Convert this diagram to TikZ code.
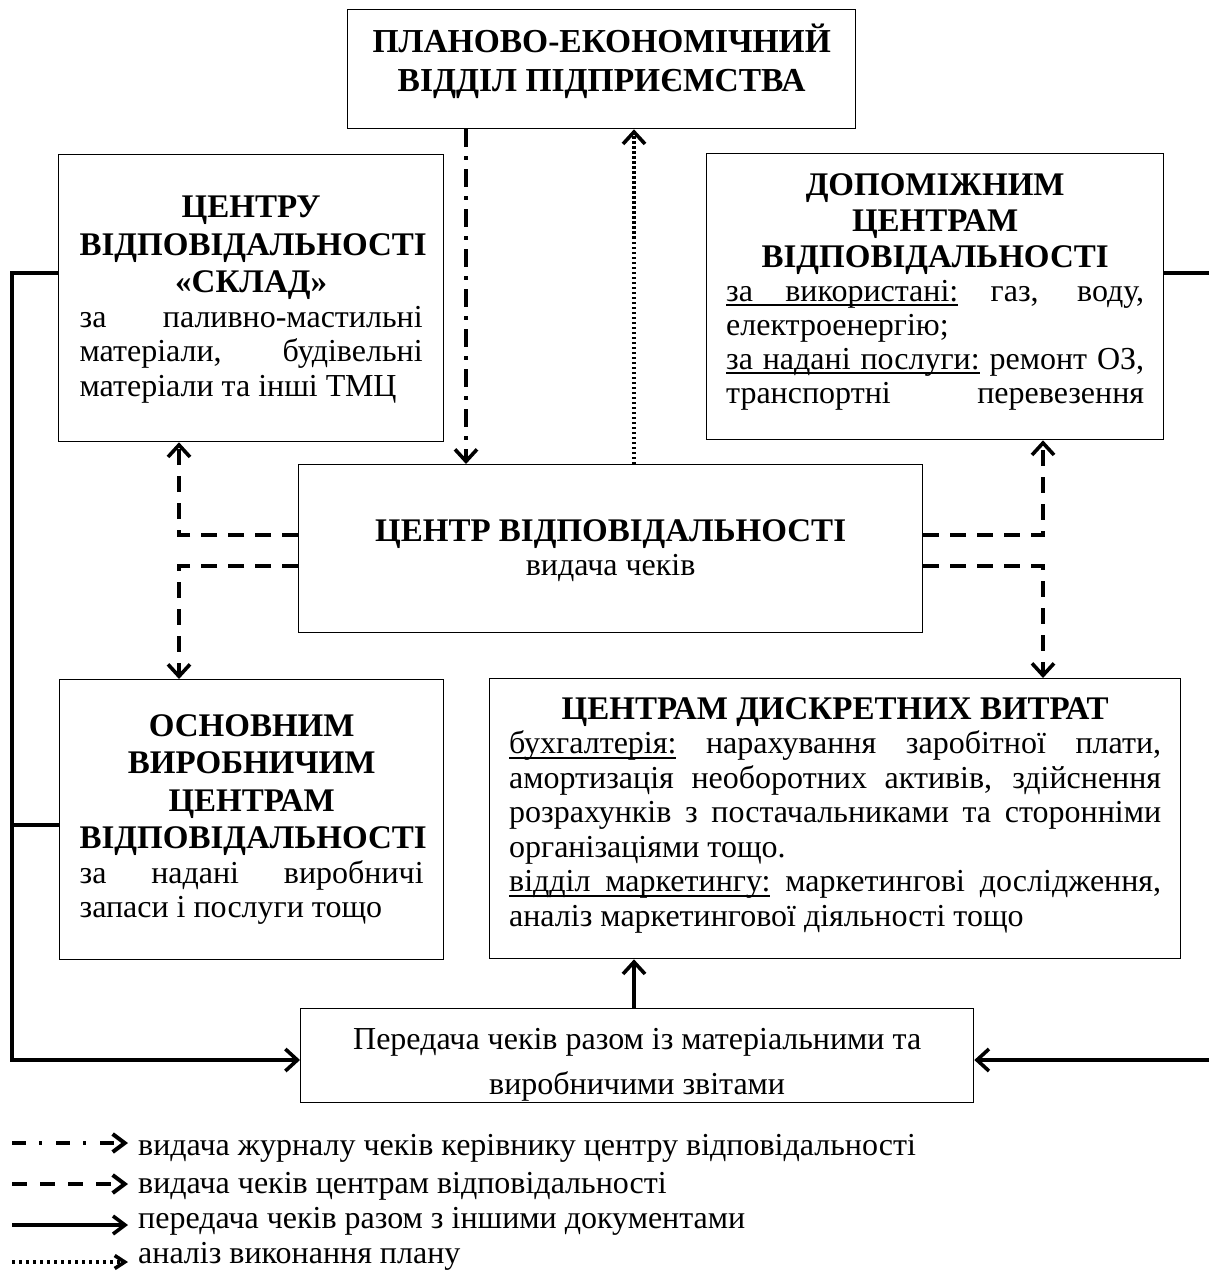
\documentclass[tikz,border=0pt]{standalone}
\usepackage{fontspec}
\setmainfont{Liberation Serif}
\usetikzlibrary{arrows.meta,calc}
\setlength{\parindent}{0pt}
\newcommand{\nsp}{\spaceskip=0pt\xspaceskip=0pt\relax}
\newcommand{\tb}[1]{{\parindent=0pt\nsp\centering\bfseries\fontsize{33}{37.5}\selectfont #1\par}}
\newcommand{\jst}{\parindent=0pt\nsp\leftskip=0pt\rightskip=0pt\parfillskip=0pt plus 1fil\relax}
\newcommand{\ulw}[1]{\leavevmode\setbox0\hbox{#1}\rlap{\rule[-5pt]{\wd0}{1.6pt}}\box0\relax}
\newcommand{\uls}{\leaders\vrule height -3.4pt depth 5pt\hskip\fontdimen2\font plus\fontdimen3\font minus\fontdimen4\font\relax}
\begin{document}
\begin{tikzpicture}[x=1pt,y=-1pt]
\useasboundingbox[fill=white] (0,0) rectangle (1209,1273);
\tikzset{
 box/.style={draw, line width=1.3pt, inner sep=0pt, anchor=north west},
 txt/.style={inner sep=0pt, anchor=north, font=\fontsize{32}{34.5}\selectfont},
 conn/.style={line width=3.6pt},
 tip/.style={-{Straight Barb[length=12pt,width=22pt]}},
 ltip/.style={-{Straight Barb[length=12pt,width=18pt]}},
 dsh/.style={conn, dash pattern=on 16pt off 11pt},
 ddot/.style={conn, dash pattern=on 18pt off 9pt on 4pt off 9pt},
 dtt/.style={conn, dash pattern=on 2.5pt off 2.5pt},
 ltxt/.style={anchor=base west, inner sep=0pt, font=\fontsize{32}{36}\selectfont},
}
% boxes
\node[box, minimum width=508, minimum height=119] (plan) at (347,9) {};
\node[box, minimum width=385, minimum height=287] (sklad) at (58,154) {};
\node[box, minimum width=457, minimum height=286] (dop) at (706,153) {};
\node[box, minimum width=624, minimum height=168] (center) at (298,464) {};
\node[box, minimum width=384, minimum height=280] (osn) at (59,679) {};
\node[box, minimum width=691, minimum height=280] (disc) at (489,678) {};
\node[box, minimum width=673, minimum height=94] (pered) at (300,1008) {};
% texts
\node[txt, text width=480] (planT) at ($(plan.north)+(0,15)$)
 {\tb{\fontsize{33.5}{39}\selectfont ПЛАНОВО-ЕКОНОМІЧНИЙ\\ВІДДІЛ ПІДПРИЄМСТВА}};
\node[txt, text width=343] (skladT) at ($(sklad.north)+(0,42)$)
 {\tb{ЦЕНТРУ\\ВІДПОВІДАЛЬНОСТІ\\«СКЛАД»}\jst
 за паливно-мастильні\linebreak матеріали, будівельні\linebreak матеріали та інші ТМЦ\par};
\node[txt, text width=418] (dopT) at ($(dop.north)+(0,20)$)
 {\tb{\baselineskip=36pt ДОПОМІЖНИМ\\ЦЕНТРАМ\\ВІДПОВІДАЛЬНОСТІ}\jst\baselineskip=34pt
 \ulw{за}\uls\ulw{використані:} газ, воду,\linebreak електроенергію;\\
 \ulw{за}\uls\ulw{надані}\uls\ulw{послуги:} ремонт ОЗ,\linebreak транспортні\hfill перевезення\par};
\node[txt, text width=580] (centerT) at ($(center.north)+(0,55)$)
 {\tb{ЦЕНТР ВІДПОВІДАЛЬНОСТІ}{\nsp\centering видача чеків\par}};
\node[txt, text width=344] (osnT) at ($(osn.north)+(0,35)$)
 {\tb{ОСНОВНИМ\\ВИРОБНИЧИМ\\ЦЕНТРАМ\\ВІДПОВІДАЛЬНОСТІ}\jst
 за надані виробничі\linebreak запаси і послуги тощо\par};
\node[txt, text width=652] (discT) at ($(disc.north)+(0,19)$)
 {\tb{ЦЕНТРАМ ДИСКРЕТНИХ ВИТРАТ}\jst
 \ulw{бухгалтерія:} нарахування заробітної плати,\linebreak
 амортизація необоротних активів, здійснення\linebreak
 розрахунків з постачальниками та сторонніми\linebreak
 організаціями тощо.\\
 \ulw{відділ}\uls\ulw{маркетингу:} маркетингові дослідження,\linebreak
 аналіз маркетингової діяльності тощо\par};
\node[txt, text width=650] (peredT) at ($(pered.north)+(0,20)$)
 {{\nsp\centering\fontsize{32}{45}\selectfont Передача чеків разом із матеріальними та\\ виробничими звітами\par}};
% helper coordinates
\coordinate (c1) at (466,0);
\coordinate (c2) at (634,0);
\coordinate (cL) at (179,0);
\coordinate (cR) at (1043,0);
\coordinate (xl) at (12,0);
\coordinate (xr) at (1209,0);
\coordinate (r1) at (0,535);
\coordinate (r2) at (0,566);
\coordinate (s1) at (0,273);
\coordinate (s2) at (0,825);
\coordinate (s3) at (0,1060);
% connectors
\draw[ddot, tip] (plan.south -| c1) -- (center.north -| c1);
\draw[dtt, tip] (center.north -| c2) -- (plan.south -| c2);
\draw[dsh, tip] (center.west |- r1) -| (sklad.south -| cL);
\draw[dsh, tip] (center.west |- r2) -| (osn.north -| cL);
\draw[dsh, tip] (center.east |- r1) -| (dop.south -| cR);
\draw[dsh, tip] (center.east |- r2) -| (disc.north -| cR);
\draw[conn, tip] (sklad.west |- s1) -- (xl |- s1) -- (xl |- s3) -- (pered.west |- s3);
\draw[conn] (osn.west |- s2) -- (xl |- s2);
\draw[conn] (dop.east |- s1) -- (xr |- s1);
\draw[conn, tip] (xr |- s3) -- (pered.east |- s3);
\draw[conn, tip] (pered.north -| c2) -- (disc.south -| c2);
% legend
\coordinate (la1) at (12,1143); \coordinate (lb1) at (128,1143);
\coordinate (la2) at (12,1184); \coordinate (lb2) at (128,1184);
\coordinate (la3) at (12,1225); \coordinate (lb3) at (128,1225);
\coordinate (la4) at (12,1262); \coordinate (lb4) at (128,1262);
\draw[conn, line width=4pt, dash pattern=on 14pt off 13pt on 3pt off 14pt, ltip] (la1) -- (lb1);
\draw[conn, line width=4pt, dash pattern=on 15pt off 13pt, ltip] (la2) -- (lb2);
\draw[conn, line width=3.6pt, ltip] (la3) -- (lb3);
\draw[conn, line width=3.6pt, dash pattern=on 3pt off 4pt, -{Straight Barb[length=10pt,width=13pt]}] (la4) -- (lb4);
\node[ltxt] (lt1) at (138,1155) {видача журналу чеків керівнику центру відповідальності};
\node[ltxt] (lt2) at (138,1193) {видача чеків центрам відповідальності};
\node[ltxt] (lt3) at (138,1228) {передача чеків разом з іншими документами};
\node[ltxt] (lt4) at (138,1263) {аналіз виконання плану};
\end{tikzpicture}
\end{document}
